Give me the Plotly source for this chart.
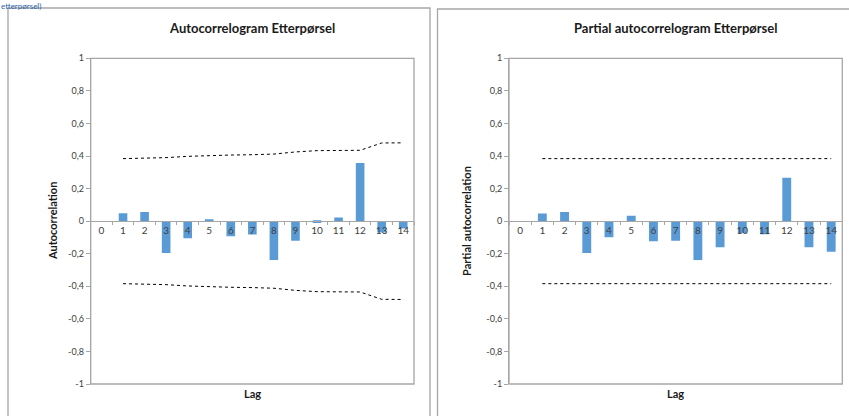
import plotly.graph_objects as go

W, H = 849, 416

lags_all = [str(i) for i in range(15)]
lags = [str(i) for i in range(1, 15)]
acf = [0.049, 0.056, -0.196, -0.105, 0.008, -0.093, -0.082, -0.239, -0.121, -0.012, 0.023, 0.357, -0.070, -0.045]
acf_upper = [0.384, 0.386, 0.390, 0.398, 0.404, 0.406, 0.408, 0.412, 0.425, 0.433, 0.434, 0.435, 0.480, 0.481]
acf_lower = [-v for v in acf_upper]
pacf = [0.047, 0.056, -0.196, -0.099, 0.033, -0.124, -0.120, -0.239, -0.161, -0.072, -0.080, 0.266, -0.161, -0.188]
pacf_upper = [0.384] * 14
pacf_lower = [-0.384] * 14
ytick_vals = [-1, -0.8, -0.6, -0.4, -0.2, 0, 0.2, 0.4, 0.6, 0.8, 1]
ytick_text = ["-1", "-0,8", "-0,6", "-0,4", "-0,2", "0", "0,2", "0,4", "0,6", "0,8", "1"]

FONT = "Lato, Carlito, 'Open Sans', sans-serif"
BAR = "#5b9bd5"
GRID = "#a6a6a6"
TXT = "#404040"

def px_x(p):
    return p / W

def px_y(p):
    return 1 - p / H

fig = go.Figure()

panels = [
    dict(ax="", vals=acf, up=acf_upper, lo=acf_lower, x0=90.7, x1=414.0,
         title="Autocorrelogram Etterpørsel", ytitle="Autocorrelation", ytx=52),
    dict(ax="2", vals=pacf, up=pacf_upper, lo=pacf_lower, x0=509.0, x1=842.3,
         title="Partial autocorrelogram Etterpørsel", ytitle="Partial autocorrelation", ytx=466),
]

y0p, y1p = 384.0, 58.3
ydom = [px_y(y0p), px_y(y1p)]
zero_pos = (ydom[0] + ydom[1]) / 2

for p in panels:
    xa = "x" + p["ax"]
    ya = "y" + p["ax"]
    fig.add_trace(go.Bar(x=lags, y=p["vals"], marker=dict(color=BAR, line=dict(width=0)),
                         xaxis=xa, yaxis=ya, showlegend=False))
    fig.add_trace(go.Scatter(x=lags, y=p["up"], mode="lines",
                             line=dict(color="black", width=1, dash="dot"),
                             xaxis=xa, yaxis=ya, showlegend=False))
    fig.add_trace(go.Scatter(x=lags, y=p["lo"], mode="lines",
                             line=dict(color="black", width=1, dash="dot"),
                             xaxis=xa, yaxis=ya, showlegend=False))
    xkey = "xaxis" + p["ax"]
    ykey = "yaxis" + p["ax"]
    fig.update_layout(**{
        xkey: dict(domain=[px_x(p["x0"]), px_x(p["x1"])], anchor="free", position=zero_pos,
                   type="category", categoryorder="array", categoryarray=lags_all,
                   tickmode="array", tickvals=lags_all, ticktext=lags_all,
                   range=[-0.5, 14.5], tickson="boundaries", ticks="outside", ticklen=3,
                   tickcolor=GRID, showline=True, linecolor=GRID, linewidth=1,
                   showgrid=False, zeroline=False,
                   tickfont=dict(family=FONT, size=10, color=TXT), fixedrange=True),
        ykey: dict(domain=ydom, anchor=xa, range=[-1, 1], tickmode="array",
                   tickvals=ytick_vals, ticktext=ytick_text, ticks="outside", ticklen=4,
                   tickcolor=GRID, showline=True, linecolor=GRID, linewidth=1,
                   showgrid=False, zeroline=False,
                   tickfont=dict(family=FONT, size=9, color=TXT), fixedrange=True),
    })
    # plot-area frame
    fig.add_shape(type="rect", xref=xa + " domain", yref=ya + " domain", x0=0, x1=1, y0=0, y1=1,
                  line=dict(color=GRID, width=1.3), fillcolor="rgba(0,0,0,0)", layer="above")
    # title
    fig.add_annotation(xref=xa + " domain", yref="paper", x=0.5, y=px_y(28), text="<b>" + p["title"] + "</b>",
                       showarrow=False, font=dict(family=FONT, size=13, color="#1a1a1a"),
                       xanchor="center", yanchor="middle")
    # x title
    fig.add_annotation(xref=xa + " domain", yref="paper", x=0.5, y=px_y(393), text="<b>Lag</b>",
                       showarrow=False, font=dict(family=FONT, size=11, color="#1a1a1a"),
                       xanchor="center", yanchor="middle")
    # y title
    fig.add_annotation(xref="paper", yref="paper", x=px_x(p["ytx"]), y=px_y(221), text="<b>" + p["ytitle"] + "</b>",
                       showarrow=False, textangle=-90, font=dict(family=FONT, size=11, color="#1a1a1a"),
                       xanchor="center", yanchor="middle")

# outer chart-panel borders
fig.add_shape(type="rect", xref="paper", yref="paper", x0=px_x(8), x1=px_x(430), y0=px_y(430), y1=px_y(8),
              line=dict(color=GRID, width=1.3), fillcolor="rgba(0,0,0,0)")
fig.add_shape(type="rect", xref="paper", yref="paper", x0=px_x(437.5), x1=px_x(860), y0=px_y(430), y1=px_y(9),
              line=dict(color=GRID, width=1.3), fillcolor="rgba(0,0,0,0)")

# blue caption fragment at the very top
fig.add_annotation(xref="paper", yref="paper", x=0, y=1, text="etterpørsel)",
                   showarrow=False, font=dict(family=FONT, size=8, color="#2e5fa8"),
                   xanchor="left", yanchor="top", borderpad=0)

fig.update_layout(width=W, height=H, autosize=False,
                  margin=dict(l=0, r=0, t=0, b=0, pad=0, autoexpand=False),
                  paper_bgcolor="white", plot_bgcolor="white", bargap=0.6,
                  font=dict(family=FONT))

fig.write_html("out.html")
